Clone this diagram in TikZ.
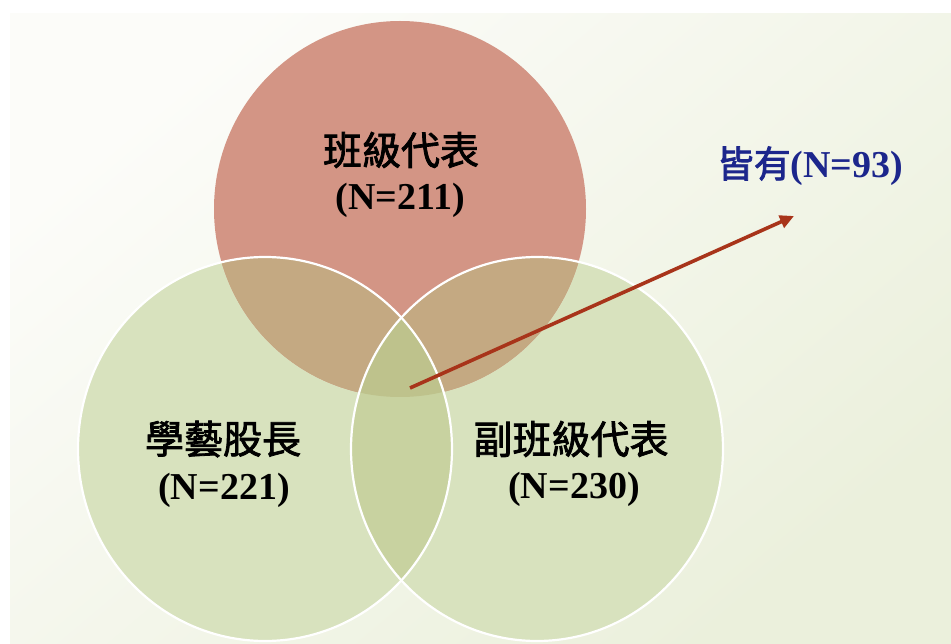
\documentclass[tikz,border=0pt]{standalone}
\usepackage{fontspec}
\setmainfont{Liberation Serif}
\newfontfamily\cjk{Noto Sans CJK TC}[FakeBold=2]
\usetikzlibrary{arrows.meta}
\definecolor{bgA}{RGB}{252,252,249}
\definecolor{bgB}{RGB}{235,240,220}
\definecolor{redc}{RGB}{211,149,133}
\definecolor{grnc}{RGB}{216,226,190}
\definecolor{tanc}{RGB}{196,169,130}
\definecolor{ggc}{RGB}{200,210,160}
\definecolor{triplec}{RGB}{190,194,140}
\definecolor{arrowc}{RGB}{168,52,26}
\definecolor{bluec}{RGB}{28,38,140}
\newcommand\topC{(400,209) ellipse [x radius=186pt, y radius=188pt]}
\newcommand\leftC{(265,449) ellipse [x radius=187pt, y radius=192pt]}
\newcommand\rightC{(537,449) ellipse [x radius=186pt, y radius=192pt]}
\tikzset{
  cjklabel/.style={inner sep=0pt, font=\cjk\fontsize{39}{40}\selectfont, text=black},
  nlabel/.style={inner sep=0pt, font=\bfseries\fontsize{38}{40}\selectfont, text=black},
  pointer/.style={draw=arrowc, line width=3.6pt, -{Triangle[length=14pt,width=13pt]}},
  rim/.style={draw=white, line width=2.2pt}
}
\begin{document}
\begin{tikzpicture}[x=1pt,y=-1pt]
\useasboundingbox (0,0) rectangle (951,644);
\fill[white] (0,0) rectangle (951,644);
\shade[top color=bgA, bottom color=bgB, shading angle=40] (10,14) rectangle (951,644);
% circles
\fill[grnc] \leftC;
\fill[grnc] \rightC;
\fill[redc] \topC;
\begin{scope}
  \clip \topC;
  \fill[tanc] \leftC;
  \fill[tanc] \rightC;
\end{scope}
\begin{scope}
  \clip \leftC;
  \fill[ggc] \rightC;
\end{scope}
\begin{scope}
  \clip \leftC;
  \clip \rightC;
  \fill[triplec] \topC;
\end{scope}
\draw[rim] \leftC;
\draw[rim] \rightC;
% labels
\node[cjklabel] (t1) at (401,150) {班級代表};
\node[nlabel] (t2) at (400,200) {(N=211)};
\node[cjklabel] (l1) at (223,439) {學藝股長};
\node[nlabel] (l2) at (224,490) {(N=221)};
\node[cjklabel] (r1) at (571,439) {副班級代表};
\node[nlabel] (r2) at (574,489) {(N=230)};
\node[inner sep=0pt, text=bluec] (all) at (810,166)
  {{\cjk\fontsize{37}{40}\selectfont 皆有}{\bfseries\fontsize{38}{40}\selectfont(N=93)}};
% arrow
\coordinate (mid) at (410,388);
\coordinate (tip) at (794,216);
\draw[pointer] (mid) -- (tip);
\end{tikzpicture}
\end{document}
